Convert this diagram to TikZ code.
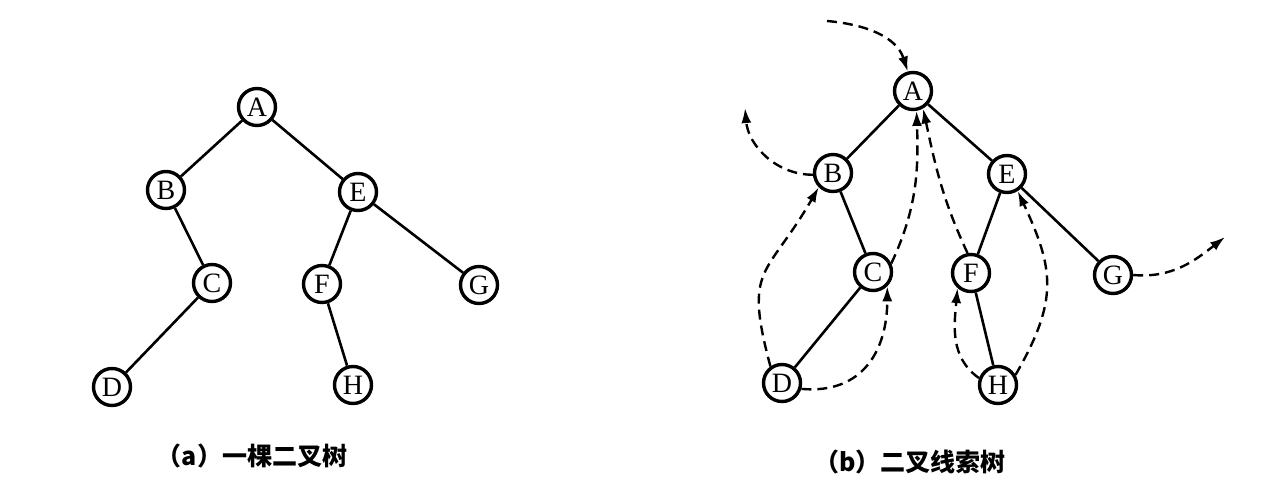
\documentclass[tikz,border=0pt]{standalone}
\usepackage{fontspec}
\setmainfont{Liberation Serif}
\newfontfamily\cjk{Noto Sans CJK SC}
\usetikzlibrary{arrows.meta}

\begin{document}
\begin{tikzpicture}[
  x=0.5pt, y=0.5pt,
  vertex/.style={draw, circle, line width=1.7pt, minimum size=18.5pt, inner sep=0pt,
    font=\fontsize{14}{16}\selectfont},
  link/.style={line width=1.3pt},
  thread/.style={-{Latex[length=7.5pt,width=5pt]}, line width=1.2pt, dash pattern=on 5pt off 3pt},
  caption/.style={font=\cjk\bfseries\fontsize{12.5}{15}\selectfont}
]
\useasboundingbox (0,0) rectangle (1272,-502);

\node[vertex] (aA) at (257,-107) {A};
\node[vertex] (aB) at (166,-190) {B};
\node[vertex] (aE) at (358,-192) {E};
\node[vertex] (aC) at (212,-283) {C};
\node[vertex] (aF) at (322,-284) {F};
\node[vertex] (aG) at (479,-285) {G};
\node[vertex] (aD) at (112,-387) {D};
\node[vertex] (aH) at (353,-385) {H};
\node[caption] (capa) at (252,-456) {（a）一棵二叉树};

\node[vertex] (bA) at (913,-91) {A};
\node[vertex] (bB) at (833,-173) {B};
\node[vertex] (bE) at (1007,-174) {E};
\node[vertex] (bC) at (873,-272) {C};
\node[vertex] (bF) at (971,-273) {F};
\node[vertex] (bG) at (1113,-275) {G};
\node[vertex] (bD) at (782,-383) {D};
\node[vertex] (bH) at (998,-385) {H};
\node[caption] (capb) at (910,-462) {（b）二叉线索树};

\coordinate (head) at (827,-21);
\coordinate (nilB) at (745,-108);
\coordinate (nilG) at (1225,-237);

\draw[link] (aA) -- (aB);
\draw[link] (aA) -- (aE);
\draw[link] (aB) -- (aC);
\draw[link] (aC) -- (aD);
\draw[link] (aE) -- (aF);
\draw[link] (aE) -- (aG);
\draw[link] (aF) -- (aH);

\draw[link] (bA) -- (bB);
\draw[link] (bA) -- (bE);
\draw[link] (bB) -- (bC);
\draw[link] (bC) -- (bD);
\draw[link] (bE) -- (bF);
\draw[link] (bE) -- (bG);
\draw[link] (bF) -- (bH);

\draw[thread] (head) to[out=-5, in=108] (bA.105);
\draw[thread] (bB.185) to[out=180, in=-85] (nilB);
\draw[thread] (bD.125) to[out=105, in=-120, looseness=1.45] (bB.-135);
\draw[thread] (bD.-17) to[out=-5, in=-90, looseness=1.2] (bC.-45);
\draw[thread] (bC.25) to[out=65, in=-88] (bA.-80);
\draw[thread] (bF.100) to[out=115, in=-78] (bA.-60);
\draw[thread] (bH.160) to[out=145, in=-95] (bF.-132);
\draw[thread] (bH.30) to[out=60, in=-65, looseness=1.2] (bE.-58);
\draw[thread] (bG.east) to[out=-5, in=218] (nilG);
\end{tikzpicture}
\end{document}
